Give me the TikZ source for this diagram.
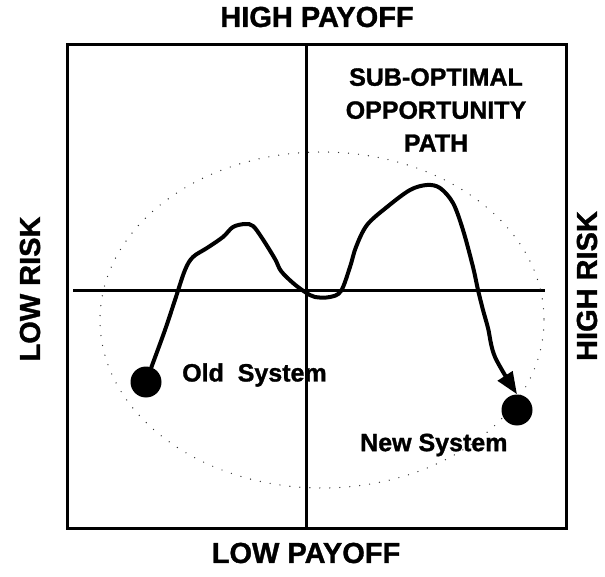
\documentclass[tikz,border=0pt]{standalone}
\usepackage{fontspec}
\setmainfont{Liberation Sans}[BoldFeatures={FakeBold=1.2}]
\usetikzlibrary{arrows.meta}

\begin{document}
\begin{tikzpicture}[x=1pt,y=-1pt,
  axislabel/.style={font=\bfseries\fontsize{29}{29}\selectfont,inner sep=0pt},
  inlabel/.style={font=\bfseries\fontsize{25}{33}\selectfont,inner sep=0pt,align=center},
  sysdot/.style={circle,fill=black,minimum size=31pt,inner sep=0pt},
  frame/.style={line width=3pt},
  halo/.style={line width=1.4pt,line cap=round,dash pattern=on 0pt off 10pt,draw=black!80},
  trail/.style={line width=4pt,line cap=round,-{Triangle[length=22pt,width=17pt]}}]
\useasboundingbox (0,0) rectangle (605,577);
% quadrant frame and axes
\draw[frame] (67,45) rectangle (566,528);
\draw[frame] (306,45) -- (306,528);
\draw[frame] (73,291) -- (545,291);
\draw[halo] (322,320) ellipse [x radius=222, y radius=168];
% edge labels
\node[axislabel] (highpay) at (317,17) {HIGH PAYOFF};
\node[axislabel] (lowpay) at (306,553) {LOW PAYOFF};
\node[axislabel,rotate=90] (lowrisk) at (30,289) {LOW RISK};
\node[axislabel,rotate=90] (highrisk) at (587,286) {HIGH RISK};
\node[inlabel] (subopt) at (436,110) {SUB-OPTIMAL\\OPPORTUNITY\\PATH};
% systems
\node[sysdot] (old) at (146,382) {};
\node[sysdot] (new) at (517,410) {};
\node[inlabel,anchor=west] (oldlabel) at (182,375) {Old\ \ System};
\node[inlabel,anchor=west] (newlabel) at (360,445) {New System};
\draw[trail] plot[smooth,tension=0.55] coordinates {(old.70) (165,330) (175,300) (185,270) (193,257) (207,248) (223,237) (233,227) (245,224) (253,226) (262,238) (275,259) (281,271) (293,283) (305,292) (315,297) (330,297) (341,291) (350,267) (356,247) (367,225) (387,207) (410,190) (427,185) (440,188) (453,203) (463,230) (473,267) (478,290) (483,310) (488,328) (495,357) (new.north)};
\end{tikzpicture}
\end{document}
